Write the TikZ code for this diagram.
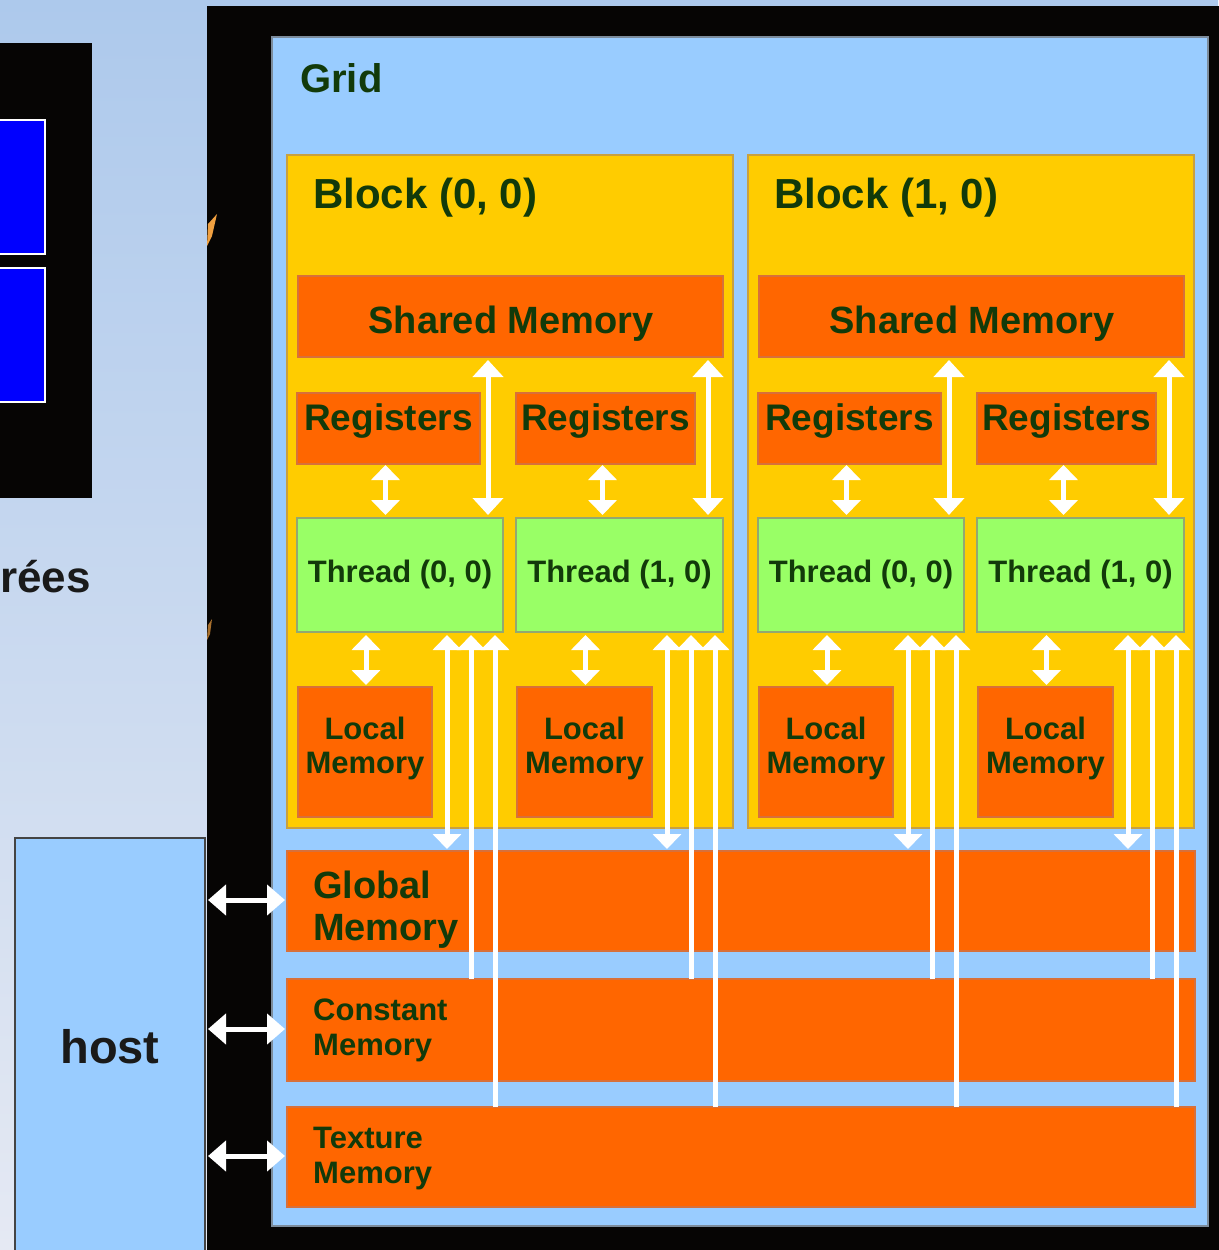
\documentclass[tikz,border=0pt]{standalone}
\usepackage{fontspec}
\setmainfont{Liberation Sans}
\usetikzlibrary{arrows.meta,calc}

\definecolor{bgtop}{HTML}{ADC9EC}
\definecolor{bgbot}{HTML}{E5E9F3}
\definecolor{panelblack}{HTML}{060504}
\definecolor{gridblue}{HTML}{99CCFF}
\definecolor{gridedge}{HTML}{7C8C9C}
\definecolor{blockyellow}{HTML}{FFCC00}
\definecolor{blockedge}{HTML}{C8A040}
\definecolor{memorange}{HTML}{FF6600}
\definecolor{memedge}{HTML}{D8703A}
\definecolor{thrgreen}{HTML}{99FF66}
\definecolor{thredge}{HTML}{94A870}
\definecolor{lblgreen}{HTML}{123A0A}
\definecolor{darktext}{HTML}{1A1A1A}
\definecolor{streak}{HTML}{F0A040}
\definecolor{hostedge}{HTML}{444444}

% font size helper (size given in pt = pixels of the drawing)
\newcommand\fsz[1]{\fontsize{#1}{#1}\selectfont\bfseries}
% rectangular box from its top-left corner, width and height
\newcommand\membox[6]{\node[#1, minimum width=#5pt, minimum height=#6pt, anchor=north west] (#2) at (#3,#4) {};}

\begin{document}
\begin{tikzpicture}[x=1pt,y=-1pt,
  panel/.style={rectangle, inner sep=0pt, outer sep=0pt},
  blackbox/.style={panel, fill=panelblack},
  bluebox/.style={panel, fill=blue, draw=white, line width=2.5pt},
  hostbox/.style={panel, fill=gridblue, draw=hostedge, line width=1.2pt},
  gridbox/.style={panel, fill=gridblue, draw=gridedge, line width=1.5pt},
  blockbox/.style={panel, fill=blockyellow, draw=blockedge, line width=1.2pt},
  mem/.style={panel, fill=memorange, draw=memedge, line width=1.2pt},
  thrbox/.style={panel, fill=thrgreen, draw=thredge, line width=1.2pt},
  lbl/.style={text=lblgreen, inner sep=0pt},
  wline/.style={draw=white, line width=5pt},
  wlong/.style={wline, >={Triangle[width=30pt,length=17pt]}},
  wshort/.style={wline, >={Triangle[width=28pt,length=15pt]}},
  whost/.style={wline, >={Triangle[width=30pt,length=18pt]}}]

\useasboundingbox (0,0) rectangle (1218,1250);

% page background
\shade[top color=bgtop, bottom color=bgbot] (0,0) rectangle (1218,1250);

% left slide fragment
\membox{blackbox}{lbk}{-10}{43}{102}{455}
\membox{bluebox}{lbA}{-10}{120}{55}{134}
\membox{bluebox}{lbB}{-10}{268}{55}{134}
\node[text=darktext, font=\fsz{44}, inner sep=0pt, anchor=base east] (frag) at (91,592) {rées};

% device panel
\membox{blackbox}{gpu}{207}{6}{1020}{1260}
\fill[streak] (207,246) -- (208,224) -- (217,214) -- (212,236) -- cycle;
\fill[streak!70!black] (207,640) -- (208,625) -- (212,619) -- (210,634) -- cycle;

% host
\membox{hostbox}{host}{15}{838}{190}{440}
\node[text=darktext, font=\fsz{47}, inner sep=0pt, anchor=base] (hostT) at (110,1063) {host};

% grid
\membox{gridbox}{grid}{272}{37}{936}{1189}
\node[lbl, font=\fsz{40}, anchor=base west] (gridT) at (300,92) {Grid};

% blocks with their shared memory, registers, threads and local memories
\foreach \b/\dx/\lab in {0/0/{Block (0, 0)},1/461/{Block (1, 0)}}{
  \membox{blockbox}{blk\b}{287+\dx}{155}{446}{673}
  \node[lbl, font=\fsz{42}, anchor=base west] (blkT\b) at (313+\dx,208) {\lab};
  \membox{mem}{shm\b}{298+\dx}{276}{425}{81}
  \node[lbl, font=\fsz{38}, anchor=base] (shmT\b) at (511+\dx,333) {Shared Memory};
  \membox{mem}{regA\b}{297+\dx}{393}{183}{71}
  \membox{mem}{regB\b}{516+\dx}{393}{179}{71}
  \node[lbl, font=\fsz{37}, anchor=base] (regTA\b) at (388.5+\dx,430) {Registers};
  \node[lbl, font=\fsz{37}, anchor=base] (regTB\b) at (605.5+\dx,430) {Registers};
  \membox{thrbox}{thrA\b}{297+\dx}{518}{206}{114}
  \membox{thrbox}{thrB\b}{516+\dx}{518}{207}{114}
  \node[lbl, font=\fsz{31}, anchor=base] (thrTA\b) at (400+\dx,582) {Thread (0, 0)};
  \node[lbl, font=\fsz{31}, anchor=base] (thrTB\b) at (619.5+\dx,582) {Thread (1, 0)};
  \membox{mem}{locA\b}{298+\dx}{687}{134}{130}
  \membox{mem}{locB\b}{517+\dx}{687}{135}{130}
  \node[lbl, font=\fsz{31}, anchor=base] (locTA\b) at (365+\dx,739) {Local};
  \node[lbl, font=\fsz{31}, anchor=base] (locMA\b) at (365+\dx,773) {Memory};
  \node[lbl, font=\fsz{31}, anchor=base] (locTB\b) at (584.5+\dx,739) {Local};
  \node[lbl, font=\fsz{31}, anchor=base] (locMB\b) at (584.5+\dx,773) {Memory};
}

% device-wide memories
\membox{mem}{glb}{287}{851}{908}{100}
\membox{mem}{cst}{287}{979}{908}{102}
\membox{mem}{txm}{287}{1107}{908}{100}
\node[lbl, font=\fsz{38}, anchor=base west] (glbT) at (313,898) {Global};
\node[lbl, font=\fsz{38}, anchor=base west] (glbM) at (313,940) {Memory};
\node[lbl, font=\fsz{31}, anchor=base west] (cstT) at (313,1020) {Constant};
\node[lbl, font=\fsz{31}, anchor=base west] (cstM) at (313,1055) {Memory};
\node[lbl, font=\fsz{31}, anchor=base west] (txmT) at (313,1148) {Texture};
\node[lbl, font=\fsz{31}, anchor=base west] (txmM) at (313,1183) {Memory};

% data paths of each thread
\foreach \b in {0,1}{
  \foreach \t in {A,B}{
    \draw[wshort,<->] ($(reg\t\b.south)+(-3,1)$) -- ($(reg\t\b.south|-thr\t\b.north)+(-3,-3)$);
    \draw[wlong,<->] ($(thr\t\b.north east)+(-15,-3)$) -- ($(thr\t\b.north east|-shm\b.south)+(-15,3)$);
    \draw[wshort,<->] ($(thr\t\b.south|-loc\t\b.north)+(-34,-2)$) -- ($(thr\t\b.south)+(-34,3)$);
    \draw[wshort,<->] ($(thr\t\b.south east)+(-56,3)$) -- ($(thr\t\b.south east|-glb.north)+(-56,-2)$);
    \draw[wshort,->] ($(thr\t\b.south east|-cst.north)+(-32,0)$) -- ($(thr\t\b.south east)+(-32,3)$);
    \draw[wshort,->] ($(thr\t\b.south east|-txm.north)+(-8,0)$) -- ($(thr\t\b.south east)+(-8,3)$);
  }
}

% host transfers
\foreach \m in {glb,cst,txm}{
  \draw[whost,<->] ($(host.east|-\m.west)+(3,-1)$) -- ($(\m.west)+(-2,-1)$);
}
\end{tikzpicture}
\end{document}
